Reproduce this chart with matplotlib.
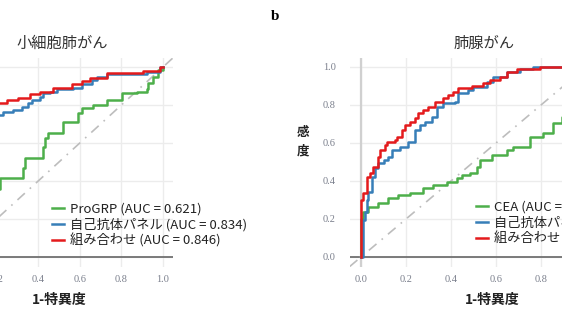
import matplotlib
matplotlib.use("Agg")
import matplotlib.pyplot as plt
from matplotlib.transforms import ScaledTranslation

plt.rcParams['font.family'] = ['Noto Sans CJK JP', 'DejaVu Sans']

# ---- data: 小細胞肺がん ----
sclc_prog_x = [0.0, 0.0, 0.05, 0.10, 0.15, 0.216, 0.329, 0.337, 0.353, 0.425, 0.433, 0.449, 0.521, 0.593,
               0.609, 0.665, 0.729, 0.801, 0.873, 0.921, 0.929, 0.953, 0.977, 1.0]
sclc_prog_y = [0.0, 0.10, 0.20, 0.30, 0.36, 0.414, 0.467, 0.519, 0.519, 0.581, 0.625, 0.651, 0.712, 0.756,
               0.782, 0.800, 0.826, 0.865, 0.870, 0.882, 0.914, 0.949, 0.984, 1.0]
sclc_panel_x = [0.0, 0.0, 0.03, 0.07, 0.11, 0.15, 0.19, 0.232, 0.280, 0.320, 0.353, 0.369, 0.409, 0.425, 0.457,
                0.489, 0.569, 0.609, 0.657, 0.681, 0.729, 0.921, 0.986, 1.0]
sclc_panel_y = [0.0, 0.30, 0.42, 0.52, 0.60, 0.67, 0.747, 0.761, 0.774, 0.791, 0.809, 0.826, 0.844, 0.861, 0.870,
                0.882, 0.891, 0.909, 0.932, 0.949, 0.963, 0.975, 0.998, 1.0]
sclc_comb_x = [0.0, 0.0, 0.02, 0.05, 0.09, 0.13, 0.17, 0.248, 0.305, 0.361, 0.409, 0.473, 0.561, 0.609, 0.649,
               0.729, 0.906, 0.986, 1.0]
sclc_comb_y = [0.0, 0.35, 0.45, 0.55, 0.62, 0.70, 0.809, 0.826, 0.839, 0.856, 0.870, 0.888, 0.909, 0.926, 0.944,
               0.967, 0.981, 0.998, 1.0]

# ---- data: 肺腺がん ----
ad_cea_x = [0.0, 0.0, 0.007, 0.033, 0.077, 0.121, 0.166, 0.218, 0.277, 0.321, 0.381, 0.425, 0.447, 0.484,
            0.514, 0.529, 0.581, 0.648, 0.677, 0.751, 0.810, 0.855, 0.893, 0.95, 1.0]
ad_cea_y = [0.0, 0.20, 0.239, 0.265, 0.282, 0.309, 0.326, 0.335, 0.361, 0.379, 0.396, 0.414, 0.432, 0.440,
            0.475, 0.511, 0.537, 0.563, 0.581, 0.633, 0.651, 0.704, 0.739, 0.85, 1.0]
ad_panel_x = [0.0, 0.007, 0.018, 0.025, 0.033, 0.047, 0.062, 0.077, 0.100, 0.121, 0.136, 0.173, 0.210, 0.240,
              0.262, 0.284, 0.314, 0.336, 0.366, 0.418, 0.432, 0.477, 0.499, 0.559, 0.588, 0.648, 0.707,
              0.766, 1.0]
ad_panel_y = [0.0, 0.195, 0.239, 0.300, 0.344, 0.423, 0.467, 0.493, 0.511, 0.528, 0.563, 0.581, 0.607, 0.668,
              0.695, 0.712, 0.739, 0.791, 0.809, 0.818, 0.861, 0.879, 0.896, 0.923, 0.949, 0.975, 0.989,
              0.998, 1.0]
ad_comb_x = [0.0, 0.0, 0.010, 0.025, 0.040, 0.055, 0.077, 0.084, 0.107, 0.114, 0.151, 0.159, 0.181, 0.196,
             0.218, 0.240, 0.255, 0.277, 0.299, 0.329, 0.366, 0.388, 0.410, 0.432, 0.492, 0.544, 0.573,
             0.618, 0.648, 0.692, 0.796, 1.0]
ad_comb_y = [0.0, 0.300, 0.335, 0.423, 0.440, 0.475, 0.528, 0.563, 0.589, 0.607, 0.616, 0.633, 0.668, 0.695,
             0.712, 0.730, 0.756, 0.774, 0.791, 0.818, 0.835, 0.853, 0.870, 0.888, 0.900, 0.914, 0.932,
             0.949, 0.975, 0.989, 0.998, 1.0]

ticks = [0.0, 0.2, 0.4, 0.6, 0.8, 1.0]
tick_labels = ["0.0", "0.2", "0.4", "0.6", "0.8", "1.0"]

GREEN, BLUE, RED = "#4daf4a", "#377eb8", "#e41a1c"
TICKC = "#7a7f8c"
W, H = 562, 316

fig = plt.figure(figsize=(5.62, 3.16), dpi=100)


def style_axes(ax):
    ax.set_xlim(-0.05, 1.05)
    ax.set_ylim(-0.05, 1.05)
    ax.set_xticks(ticks)
    ax.set_yticks(ticks)
    ax.set_xticklabels(tick_labels, family="Liberation Serif", fontsize=7.5, color=TICKC)
    ax.set_yticklabels([])
    ax.tick_params(length=0, pad=6)
    for s in ax.spines.values():
        s.set_visible(False)
    ax.grid(True, color="#ececec", lw=1.0)
    ax.set_axisbelow(True)
    ax.axhline(0, color="#666666", lw=1.2, zorder=1)
    ax.axvline(0, color="#d0d0d0", lw=1.6, zorder=1)
    ax.plot([-0.05, 1.05], [-0.05, 1.05], color="#bdbdbd", lw=1.2, ls=(0, (6, 4, 1, 4)), zorder=1)
    # y tick labels, 14 px left of the panel edge
    trans = ax.get_yaxis_transform() + ScaledTranslation(-0.14, 0, fig.dpi_scale_trans)
    for v, lab in zip(ticks, tick_labels):
        ax.text(0, v, lab, transform=trans, ha="right", va="center",
                family="Liberation Serif", fontsize=7.5, color=TICKC, clip_on=False)


leg_kw = dict(loc="center left", frameon=False, fontsize=9.5, handlelength=0.9,
              handletextpad=0.45, labelspacing=0.15, labelcolor="#222222",
              borderaxespad=0, borderpad=0)

# left panel (partly outside the figure)
ax1 = fig.add_axes([-55.4 / W, (H - 266.5) / H, 228.8 / W, 209 / H])
style_axes(ax1)
l1, = ax1.plot(sclc_prog_x, sclc_prog_y, drawstyle="steps-post", color=GREEN, lw=1.8, zorder=3)
l2, = ax1.plot(sclc_panel_x, sclc_panel_y, drawstyle="steps-post", color=BLUE, lw=1.8, zorder=3)
l3, = ax1.plot(sclc_comb_x, sclc_comb_y, drawstyle="steps-post", color=RED, lw=1.8, zorder=4)
fig.legend([l1, l2, l3],
           ["ProGRP (AUC = 0.621)", "自己抗体パネル (AUC = 0.834)", "組み合わせ (AUC = 0.846)"],
           bbox_to_anchor=(52 / W, (H - 225) / H), **leg_kw)

# right panel (partly outside the figure)
ax2 = fig.add_axes([349.75 / W, (H - 266.5) / H, 247.5 / W, 209 / H])
style_axes(ax2)
r1, = ax2.plot(ad_cea_x, ad_cea_y, drawstyle="steps-post", color=GREEN, lw=1.8, zorder=3)
r2, = ax2.plot(ad_panel_x, ad_panel_y, drawstyle="steps-post", color=BLUE, lw=1.8, zorder=3)
r3, = ax2.plot(ad_comb_x, ad_comb_y, drawstyle="steps-post", color=RED, lw=1.8, zorder=4)
fig.legend([r1, r2, r3],
           ["CEA (AUC = 0.629)", "自己抗体パネル (AUC = 0.858)", "組み合わせ (AUC = 0.874)"],
           bbox_to_anchor=(476 / W, (H - 223) / H), **leg_kw)

# titles and labels
fig.text(62 / W, (H - 43) / H, "小細胞肺がん", ha="center", va="center", fontsize=11, color="#333333")
fig.text(484 / W, (H - 43) / H, "肺腺がん", ha="center", va="center", fontsize=11, color="#333333")
fig.text(59 / W, (H - 300) / H, "1-特異度", ha="center", va="center", fontsize=10,
         fontweight="bold", color="#222222")
fig.text(492 / W, (H - 300) / H, "1-特異度", ha="center", va="center", fontsize=10,
         fontweight="bold", color="#222222")
fig.text(303 / W, (H - 142) / H, "感\n度", ha="center", va="center", fontsize=9,
         fontweight="bold", color="#222222", linespacing=1.5)
fig.text(275 / W, (H - 17) / H, "b", ha="center", va="center", fontsize=11,
         fontweight="bold", family="Liberation Serif")

fig.savefig("out.png", dpi=100)
